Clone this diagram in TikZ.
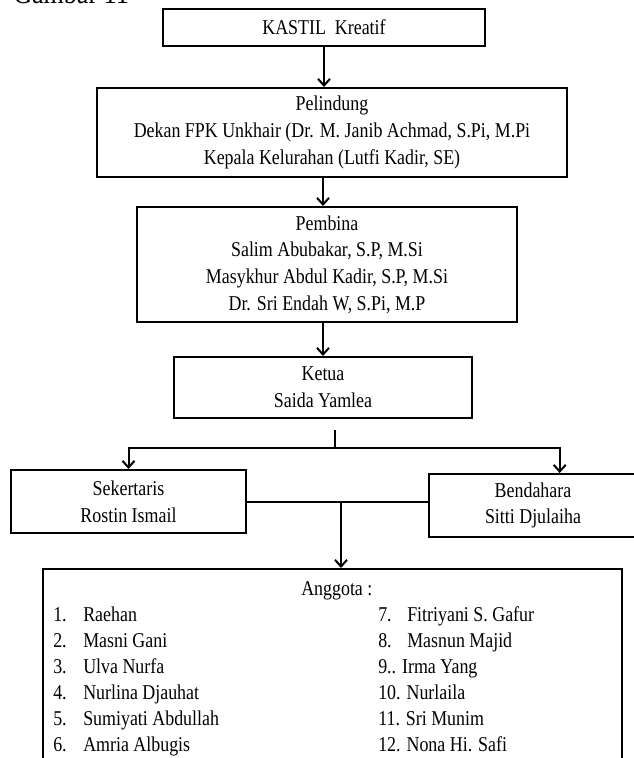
\documentclass[tikz,border=0pt]{standalone}
\usepackage{fontspec}
\setmainfont{Liberation Serif}[FakeStretch=0.85]
\usetikzlibrary{arrows.meta,positioning}

\begin{document}
\begin{tikzpicture}[
x=0.75pt,y=-0.75pt,
every node/.style={font=\fontsize{15.8}{20}\selectfont},
box/.style={draw=black,line width=1.5pt,align=center,inner sep=0pt},
arr/.style={-{Straight Barb[length=5pt,width=9pt]},line width=1.5pt},
ln/.style={line width=1.5pt},
item/.style={anchor=base west,inner sep=0pt}
]
\useasboundingbox (0,0) rectangle (634,758);

\node[anchor=base west,inner sep=0pt,font=\fontsize{23}{28}\selectfont] (caption) at (13,3) {Gambar 11};

\node[box,minimum width=241.5pt,minimum height=27.75pt] (kastil) at (324,27.5) {KASTIL\ \ Kreatif};
\node[box,minimum width=352.5pt,minimum height=66.75pt] (pelindung) at (332,132.5)
  {Pelindung\\ Dekan FPK Unkhair (Dr. M. Janib Achmad, S.Pi, M.Pi\\ Kepala Kelurahan (Lutfi Kadir, SE)};
\node[box,minimum width=285pt,minimum height=86.25pt] (pembina) at (327,264.5)
  {Pembina\\ Salim Abubakar, S.P, M.Si\\ Masykhur Abdul Kadir, S.P, M.Si\\ Dr. Sri Endah W, S.Pi, M.P};
\node[box,minimum width=223.5pt,minimum height=45.75pt] (ketua) at (323,387.5) {Ketua\\ Saida Yamlea};
\node[box,minimum width=176.25pt,minimum height=47.25pt] (sekertaris) at (128.5,501.5) {Sekertaris\\ Rostin Ismail};
\node[box,minimum width=156pt,minimum height=47.25pt] (bendahara) at (533,505.5) {Bendahara\\ Sitti Djulaiha};
\node[box,minimum width=434.25pt,minimum height=151.5pt,anchor=north] (anggota) at (332.5,568) {};

% anggota list
\node[item] (judul) at (301,595) {Anggota :};
\foreach \no/\nama [count=\i from 0] in {1/Raehan,2/Masni Gani,3/Ulva Nurfa,4/Nurlina Djauhat,5/Sumiyati Abdullah,6/Amria Albugis}{
  \node[item] (no\no) at (53,621+26*\i) {\no.};
  \node[item] (nama\no) at (83,621+26*\i) {\nama};
}
\node[item] (no7) at (378,621) {7.};
\node[item] (nama7) at (407,621) {Fitriyani S. Gafur};
\node[item] (no8) at (378,647) {8.};
\node[item] (nama8) at (407,647) {Masnun Majid};
\foreach \nama [count=\i from 2] in {9.. Irma Yang,10. Nurlaila,11. Sri Munim,12. Nona Hi. Safi}{
  \node[item] (kanan\i) at (378,621+26*\i) {\nama};
}

% connectors
\coordinate (stub) at (335,430);
\coordinate (split) at (335,448);
\coordinate (join) at (341,502);
\draw[arr] (kastil.south) -- (kastil.south |- pelindung.north);
\draw[arr] (pelindung.south -| ketua) -- (pembina.north -| ketua);
\draw[arr] (pembina.south -| ketua) -- (ketua.north);
\draw[ln] (stub) -- (split);
\draw[arr] (split) -| (sekertaris.north);
\draw[arr] (split) -| ([xshift=20pt]bendahara.north);
\draw[ln] (sekertaris.east |- join) -- (join) -- (join -| bendahara.west);
\draw[arr] (join) -- (join |- anggota.north);
\end{tikzpicture}
\end{document}
